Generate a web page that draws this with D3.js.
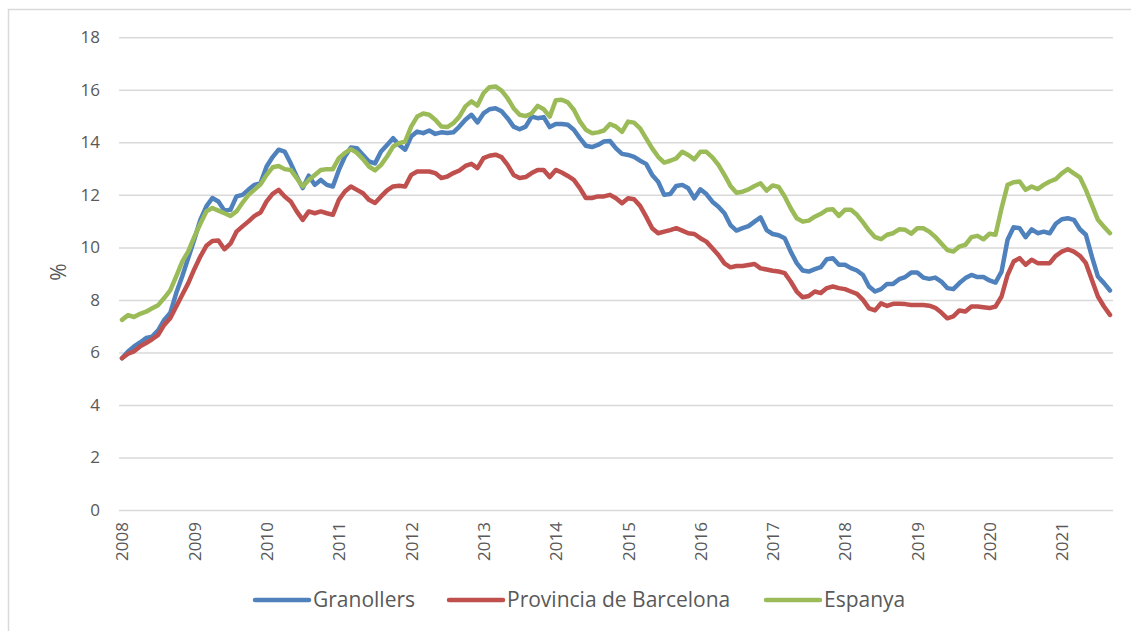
<!DOCTYPE html>
<html>
<head>
<meta charset="utf-8">
<script src="https://d3js.org/d3.v7.min.js"></script>
<style>
  body { margin: 0; background: #fff; }
  text { font-family: "Open Sans", sans-serif; fill: #595959; }
</style>
</head>
<body>
<main></main>
<script>
// Dades mensuals, gener 2008 - setembre 2021 (%)
const anys = ['2008', '2009', '2010', '2011', '2012', '2013', '2014', '2015', '2016', '2017', '2018', '2019', '2020', '2021'];

const granollers = [
  5.78, 6.04, 6.23, 6.38, 6.55, 6.6, 6.84, 7.24, 7.5, 8.26, 8.9, 9.6,
  10.3, 11.05, 11.56, 11.88, 11.75, 11.4, 11.43, 11.94, 12.0, 12.2, 12.38, 12.45,
  13.08, 13.44, 13.72, 13.65, 13.2, 12.7, 12.26, 12.73, 12.38, 12.57, 12.38, 12.32,
  12.95, 13.46, 13.8, 13.78, 13.52, 13.27, 13.2, 13.65, 13.9, 14.16, 13.9, 13.72,
  14.22, 14.41, 14.35, 14.45, 14.32, 14.38, 14.36, 14.38, 14.6, 14.86, 15.05, 14.76,
  15.1, 15.26, 15.3, 15.18, 14.92, 14.6, 14.5, 14.6, 14.98, 14.92, 14.96, 14.58,
  14.7, 14.7, 14.67, 14.48, 14.16, 13.87, 13.82, 13.9, 14.03, 14.05, 13.77, 13.56,
  13.52, 13.45, 13.3, 13.18, 12.76, 12.5, 12.0, 12.03, 12.34, 12.38, 12.25, 11.87,
  12.21, 12.03, 11.74, 11.55, 11.3, 10.85, 10.64, 10.73, 10.81, 10.98, 11.14, 10.66,
  10.51, 10.46, 10.35, 9.84, 9.4, 9.12, 9.08, 9.17, 9.25, 9.55, 9.59, 9.34,
  9.34, 9.21, 9.12, 8.95, 8.51, 8.32, 8.41, 8.61, 8.61, 8.79, 8.87, 9.04,
  9.04, 8.85, 8.8, 8.85, 8.7, 8.45, 8.41, 8.64, 8.83, 8.95, 8.87, 8.87,
  8.74, 8.66, 9.08, 10.29, 10.77, 10.73, 10.39, 10.69, 10.54, 10.6, 10.54, 10.9,
  11.07, 11.11, 11.05, 10.69, 10.48, 9.65, 8.89, 8.64, 8.36
];

const barcelona = [
  5.78, 5.95, 6.04, 6.23, 6.36, 6.5, 6.67, 7.05, 7.3, 7.75, 8.2, 8.64,
  9.17, 9.65, 10.06, 10.24, 10.26, 9.93, 10.14, 10.6, 10.8, 10.99, 11.2, 11.33,
  11.75, 12.04, 12.19, 11.94, 11.75, 11.37, 11.05, 11.37, 11.3, 11.37, 11.3, 11.24,
  11.81, 12.13, 12.32, 12.19, 12.06, 11.81, 11.69, 11.94, 12.17, 12.32, 12.35, 12.32,
  12.76, 12.89, 12.89, 12.89, 12.83, 12.64, 12.7, 12.83, 12.93, 13.1, 13.18, 13.02,
  13.4, 13.49, 13.53, 13.44, 13.14, 12.76, 12.64, 12.68, 12.83, 12.95, 12.95, 12.68,
  12.95, 12.85, 12.72, 12.57, 12.26, 11.88, 11.88, 11.94, 11.94, 12.0, 11.87, 11.68,
  11.87, 11.83, 11.58, 11.17, 10.73, 10.54, 10.6, 10.66, 10.73, 10.64, 10.54, 10.51,
  10.35, 10.22, 9.97, 9.71, 9.39, 9.24, 9.29, 9.29, 9.33, 9.37, 9.2, 9.16,
  9.11, 9.08, 9.02, 8.7, 8.32, 8.1, 8.15, 8.32, 8.26, 8.45, 8.51, 8.45,
  8.41, 8.32, 8.23, 8.0, 7.68, 7.6, 7.87, 7.77, 7.85, 7.85, 7.84, 7.81,
  7.81, 7.81, 7.78, 7.7, 7.52, 7.3, 7.37, 7.6, 7.56, 7.75, 7.75, 7.72,
  7.69, 7.75, 8.13, 8.95, 9.46, 9.59, 9.34, 9.53, 9.4, 9.4, 9.4, 9.68,
  9.84, 9.93, 9.84, 9.68, 9.4, 8.76, 8.13, 7.75, 7.43
];

const espanya = [
  7.24, 7.42, 7.35, 7.47, 7.55, 7.68, 7.8, 8.07, 8.36, 8.9, 9.46, 9.85,
  10.4, 10.9, 11.37, 11.5, 11.4, 11.3, 11.2, 11.37, 11.7, 12.0, 12.2, 12.4,
  12.76, 13.05, 13.1, 12.98, 12.95, 12.64, 12.32, 12.57, 12.76, 12.95, 12.98, 12.98,
  13.4, 13.6, 13.74, 13.6, 13.36, 13.08, 12.93, 13.14, 13.46, 13.84, 13.97, 14.03,
  14.6, 14.98, 15.1, 15.05, 14.86, 14.6, 14.58, 14.73, 14.98, 15.37, 15.56, 15.4,
  15.87, 16.1, 16.13, 15.97, 15.68, 15.3, 15.05, 15.0, 15.1, 15.39, 15.26, 14.98,
  15.6, 15.62, 15.52, 15.24, 14.8, 14.48, 14.35, 14.38, 14.45, 14.7, 14.6, 14.4,
  14.79, 14.75, 14.53, 14.15, 13.77, 13.45, 13.23, 13.3, 13.39, 13.64, 13.52, 13.35,
  13.64, 13.64, 13.43, 13.14, 12.76, 12.34, 12.08, 12.12, 12.21, 12.34, 12.44, 12.16,
  12.36, 12.3, 11.94, 11.49, 11.11, 10.98, 11.02, 11.17, 11.28, 11.43, 11.45, 11.2,
  11.43, 11.43, 11.24, 10.95, 10.64, 10.39, 10.31, 10.48, 10.54, 10.69, 10.67, 10.52,
  10.73, 10.73, 10.6, 10.4, 10.15, 9.9, 9.84, 10.03, 10.1, 10.39, 10.44, 10.31,
  10.52, 10.48, 11.49, 12.38, 12.48, 12.51, 12.19, 12.32, 12.22, 12.38, 12.51, 12.6,
  12.82, 12.98, 12.82, 12.67, 12.19, 11.62, 11.05, 10.79, 10.54
];

const series = [
  { nom: 'Granollers', valors: granollers, color: '#4F81BD' },
  { nom: 'Provincia de Barcelona', valors: barcelona, color: '#C0504D' },
  { nom: 'Espanya', valors: espanya, color: '#9BBB59' }
];

const w = 1131;
const h = 631;

var svg = d3.select('main')
  .append('svg')
  .attr('width', w)
  .attr('height', h);

// marc del gràfic
svg.append('rect')
  .attr('x', 8.5)
  .attr('y', 9.5)
  .attr('width', w)
  .attr('height', h)
  .attr('fill', 'none')
  .attr('stroke', '#d9d9d9')
  .attr('stroke-width', 1.5);

const mesos = d3.range(granollers.length);

const x = d3.scalePoint()
  .domain(mesos)
  .range([119, 1113])
  .padding(0.5);

const y = d3.scaleLinear()
  .domain([0, 18])
  .range([510, 37.3]);

// eix Y amb línies de quadrícula
const eixY = svg.append('g')
  .attr('transform', 'translate(119,0)')
  .call(d3.axisLeft(y).tickValues(d3.range(0, 19, 2)).tickSize(-994).tickPadding(19));

eixY.select('.domain').remove();
eixY.selectAll('line').attr('stroke', '#d9d9d9').attr('stroke-width', 1.5);
eixY.selectAll('text').attr('font-size', '17px').attr('fill', '#595959');

// eix X: un rètol per any
const eixX = svg.append('g')
  .attr('transform', 'translate(0,510)')
  .call(d3.axisBottom(x).tickValues(anys.map((a, i) => i * 12)).tickFormat((d) => anys[d / 12]).tickSize(0));

eixX.select('.domain').remove();
eixX.selectAll('text')
  .attr('font-size', '17px')
  .attr('fill', '#595959')
  .attr('text-anchor', 'end')
  .attr('dy', '0.35em')
  .attr('transform', 'translate(0,12) rotate(-90)')
  .attr('x', 0)
  .attr('y', 0);

svg.append('text')
  .attr('transform', 'translate(66,272) rotate(-90)')
  .attr('text-anchor', 'middle')
  .attr('font-size', '21px')
  .text('%');

// línies
const linia = d3.line()
  .x((d, i) => x(i))
  .y((d) => y(d));

svg.selectAll('.serie')
  .data(series)
  .enter()
  .append('path')
  .attr('class', 'serie')
  .attr('d', (d) => linia(d.valors))
  .attr('fill', 'none')
  .attr('stroke', (d) => d.color)
  .attr('stroke-width', 4.5)
  .attr('stroke-linejoin', 'round')
  .attr('stroke-linecap', 'round');

// llegenda
const posLlegenda = [255, 449, 766];

var llegenda = svg.selectAll('.llegenda')
  .data(series)
  .enter()
  .append('g')
  .attr('class', 'llegenda')
  .attr('transform', (d, i) => `translate(${posLlegenda[i]},600)`);

llegenda.append('line')
  .attr('x1', 0)
  .attr('x2', 54)
  .attr('stroke', (d) => d.color)
  .attr('stroke-width', 4.5)
  .attr('stroke-linecap', 'round');

llegenda.append('text')
  .attr('x', 58)
  .attr('dy', '0.35em')
  .attr('font-size', '21px')
  .text((d) => d.nom);
</script>
</body>
</html>
